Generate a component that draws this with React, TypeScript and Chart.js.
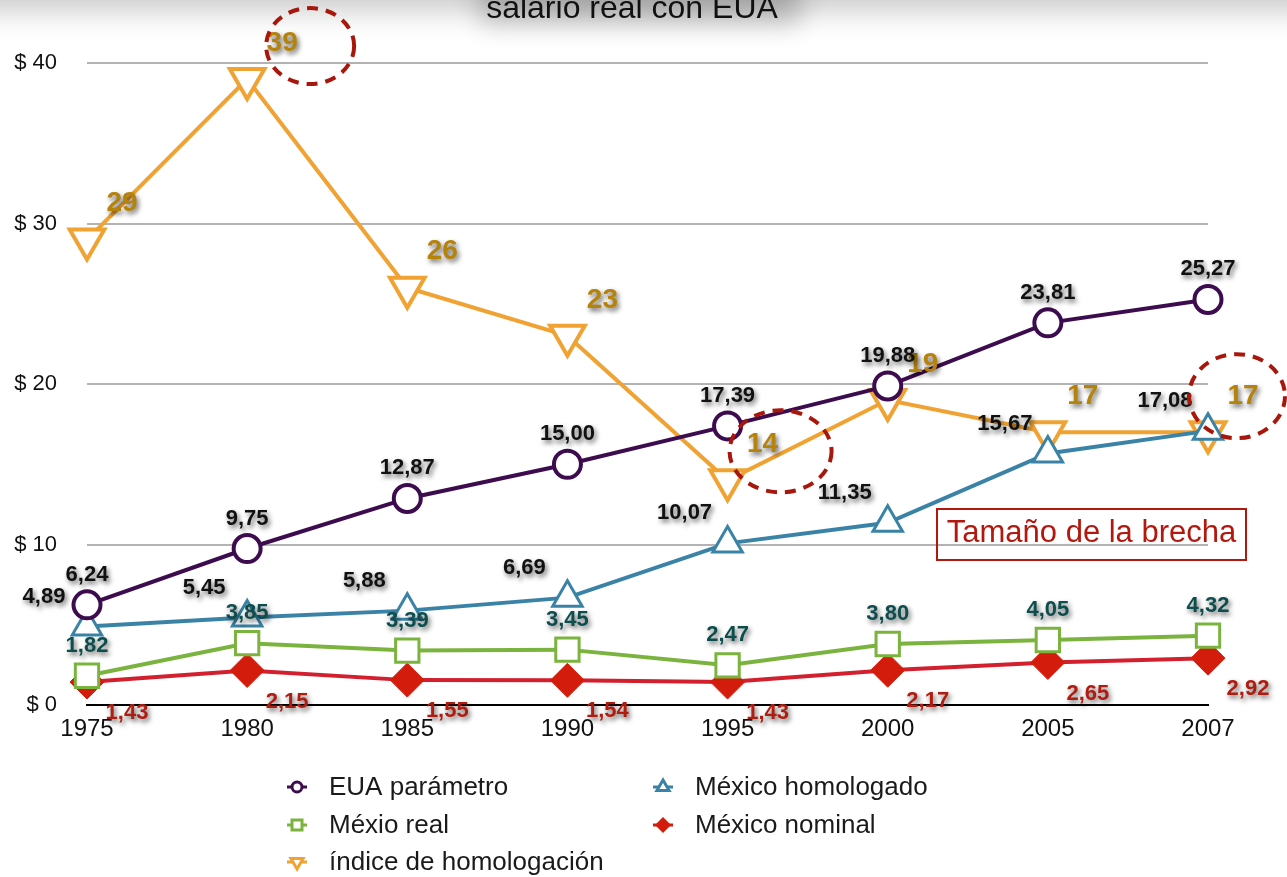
import React, { useEffect, useRef } from 'react';
import { Chart, registerables } from 'chart.js';
Chart.register(...registerables);

const years = ['1975', '1980', '1985', '1990', '1995', '2000', '2005', '2007'];
const euaParametro = [6.24, 9.75, 12.87, 15.0, 17.39, 19.88, 23.81, 25.27];
const mexicoHomologado = [4.89, 5.45, 5.88, 6.69, 10.07, 11.35, 15.67, 17.08];
const mexicoReal = [1.82, 3.85, 3.39, 3.45, 2.47, 3.8, 4.05, 4.32];
const mexicoNominal = [1.43, 2.15, 1.55, 1.54, 1.43, 2.17, 2.65, 2.92];
const indiceHomologacion = [29, 39, 26, 23, 14, 19, 17, 17];
const yMin = 0;
const yMax = 40;
const yStep = 10;
const titleText = 'salario real con EUA';
const calloutText = 'Tamaño de la brecha';
const highlightedIdx = [1, 4, 7];

const FONT = "'Liberation Sans', Arial, Helvetica, sans-serif";

const fmt2 = (v: number) => v.toFixed(2).replace('.', ',');
const fmt0 = (v: number) => String(Math.round(v));

const COLORS = {
  eua: '#3d0c4e',
  hom: '#3a83a7',
  real: '#7bb33f',
  nomLine: '#d2202e',
  nomFill: '#d41c0c',
  idx: '#f0a232',
};

function drawMarker(ctx: CanvasRenderingContext2D, kind: string, x: number, y: number, color: string) {
  ctx.save();
  ctx.strokeStyle = color;
  ctx.lineWidth = 3;
  ctx.beginPath();
  ctx.moveTo(x - 10, y);
  ctx.lineTo(x + 10, y);
  ctx.stroke();
  ctx.beginPath();
  const r = 7;
  if (kind === 'circle') {
    ctx.arc(x, y, 5, 0, Math.PI * 2);
  } else if (kind === 'rect') {
    ctx.rect(x - 5, y - 5, 10, 10);
  } else if (kind === 'triangle') {
    ctx.moveTo(x, y - r);
    ctx.lineTo(x + r * 0.87, y + r * 0.5);
    ctx.lineTo(x - r * 0.87, y + r * 0.5);
    ctx.closePath();
  } else if (kind === 'tri-down') {
    ctx.moveTo(x, y + r);
    ctx.lineTo(x + r * 0.87, y - r * 0.5);
    ctx.lineTo(x - r * 0.87, y - r * 0.5);
    ctx.closePath();
  } else if (kind === 'diamond') {
    ctx.moveTo(x, y - 8);
    ctx.lineTo(x + 8, y);
    ctx.lineTo(x, y + 8);
    ctx.lineTo(x - 8, y);
    ctx.closePath();
  }
  if (kind === 'diamond') {
    ctx.fillStyle = color;
    ctx.fill();
  } else {
    ctx.fillStyle = '#fff';
    ctx.fill();
    ctx.lineWidth = 3;
    ctx.stroke();
  }
  ctx.restore();
}

const decorPlugin = {
  id: 'decor',
  beforeDraw(chart: any) {
    const ctx = chart.ctx as CanvasRenderingContext2D;
    ctx.save();
    ctx.fillStyle = '#fff';
    ctx.fillRect(0, 0, chart.width, chart.height);
    // soft shadow band at the top (shape kept off-canvas, only its shadow shows)
    const off = 2000;
    ctx.shadowColor = 'rgba(0,0,0,0.22)';
    ctx.shadowBlur = 30;
    ctx.shadowOffsetY = off + 10;
    ctx.fillStyle = '#fff';
    ctx.fillRect(-60, -off - 60, chart.width + 120, 60);
    // title halo
    ctx.shadowColor = 'rgba(0,0,0,0.22)';
    ctx.shadowBlur = 26;
    ctx.shadowOffsetY = off + 14;
    ctx.fillRect(480, -off - 40, 320, 50);
    ctx.restore();
  },
  afterDatasetsDraw(chart: any) {
    const ctx = chart.ctx as CanvasRenderingContext2D;
    // data labels
    const drawOrder = [4, 3, 2, 1, 0];
    drawOrder.forEach((di) => {
      const ds = chart.data.datasets[di];
      const meta = chart.getDatasetMeta(di);
      const lbl = ds.lbl;
      ctx.save();
      ctx.font = lbl.font;
      ctx.fillStyle = lbl.color;
      ctx.textAlign = 'center';
      ctx.textBaseline = 'middle';
      ctx.shadowColor = 'rgba(0,0,0,0.6)';
      ctx.shadowBlur = 5;
      ctx.shadowOffsetX = 2;
      ctx.shadowOffsetY = 3;
      meta.data.forEach((pt: any, i: number) => {
        ctx.fillText(lbl.fmt(ds.data[i]), pt.x + lbl.dx, pt.y + lbl.dy);
      });
      ctx.restore();
    });

    // dashed ellipses around highlighted index values
    const idxMeta = chart.getDatasetMeta(4);
    const ellipseOffsets = [
      { dx: 63, dy: -33, rx: 44, ry: 38 },
      { dx: 53, dy: -29, rx: 51, ry: 41 },
      { dx: 29, dy: -36, rx: 48, ry: 42 },
    ];
    ctx.save();
    ctx.strokeStyle = '#a8170c';
    ctx.lineWidth = 4;
    ctx.setLineDash([11, 8]);
    highlightedIdx.forEach((i, k) => {
      const pt = idxMeta.data[i];
      const o = ellipseOffsets[k];
      ctx.beginPath();
      ctx.ellipse(pt.x + o.dx, pt.y + o.dy, o.rx, o.ry, 0, 0, Math.PI * 2);
      ctx.stroke();
    });
    ctx.restore();

    // callout box
    const ca = chart.chartArea;
    const bx = ca.right - 271;
    const by = 509;
    const bw = 309;
    const bh = 51;
    ctx.save();
    ctx.strokeStyle = '#b3170e';
    ctx.lineWidth = 2;
    ctx.strokeRect(bx, by, bw, bh);
    ctx.fillStyle = '#b3170e';
    ctx.font = `31px ${FONT}`;
    ctx.textAlign = 'center';
    ctx.textBaseline = 'alphabetic';
    ctx.fillText(calloutText, bx + bw / 2, by + 33);
    ctx.restore();
  },
  afterDraw(chart: any) {
    const ctx = chart.ctx as CanvasRenderingContext2D;
    // title
    ctx.save();
    ctx.fillStyle = '#111';
    ctx.font = `32px ${FONT}`;
    ctx.textAlign = 'center';
    ctx.textBaseline = 'alphabetic';
    ctx.fillText(titleText, 632, 18);
    ctx.restore();

    // legend
    const items = [
      { text: 'EUA parámetro', kind: 'circle', color: COLORS.eua, x: 297, y: 787 },
      { text: 'México homologado', kind: 'triangle', color: COLORS.hom, x: 663, y: 787 },
      { text: 'Méxio real', kind: 'rect', color: COLORS.real, x: 297, y: 825 },
      { text: 'México nominal', kind: 'diamond', color: COLORS.nomFill, x: 663, y: 825 },
      { text: 'índice de homologación', kind: 'tri-down', color: COLORS.idx, x: 297, y: 862 },
    ];
    ctx.save();
    ctx.font = `26px ${FONT}`;
    ctx.textAlign = 'left';
    ctx.textBaseline = 'middle';
    items.forEach((it) => {
      drawMarker(ctx, it.kind, it.x, it.y, it.color);
      ctx.fillStyle = '#1a1a1a';
      ctx.fillText(it.text, it.x + 32, it.y + 1);
    });
    ctx.restore();
  },
};

export default function App() {
  const ref = useRef<HTMLCanvasElement | null>(null);
  useEffect(() => {
    if (!ref.current) return;
    Chart.defaults.font.family = FONT;
    const chart = new Chart(ref.current, {
      type: 'line',
      data: {
        labels: years,
        datasets: [
          {
            label: 'EUA parámetro',
            data: euaParametro,
            borderColor: COLORS.eua,
            backgroundColor: '#fff',
            borderWidth: 4,
            pointStyle: 'circle',
            pointRadius: 13.5,
            pointBorderWidth: 4,
            pointBackgroundColor: '#fff',
            pointBorderColor: COLORS.eua,
            order: 1,
            clip: false,
            lbl: { fmt: fmt2, color: '#111', font: `bold 22px ${FONT}`, dx: 0, dy: -30 },
          } as any,
          {
            label: 'México homologado',
            data: mexicoHomologado,
            borderColor: COLORS.hom,
            backgroundColor: '#fff',
            borderWidth: 4,
            pointStyle: 'triangle',
            pointRadius: 17,
            pointBorderWidth: 3,
            pointBackgroundColor: '#fff',
            pointBorderColor: COLORS.hom,
            order: 2,
            clip: false,
            lbl: { fmt: fmt2, color: '#111', font: `bold 22px ${FONT}`, dx: -43, dy: -30 },
          } as any,
          {
            label: 'Méxio real',
            data: mexicoReal,
            borderColor: COLORS.real,
            backgroundColor: '#fff',
            borderWidth: 4,
            pointStyle: 'rect',
            pointRadius: 16.5,
            pointBorderWidth: 3,
            pointBackgroundColor: '#fff',
            pointBorderColor: COLORS.real,
            order: 3,
            clip: false,
            lbl: { fmt: fmt2, color: '#0d4d4d', font: `bold 22px ${FONT}`, dx: 0, dy: -30 },
          } as any,
          {
            label: 'México nominal',
            data: mexicoNominal,
            borderColor: COLORS.nomLine,
            backgroundColor: COLORS.nomFill,
            borderWidth: 4,
            pointStyle: 'rectRot',
            pointRadius: 17,
            pointBorderWidth: 1,
            pointBackgroundColor: COLORS.nomFill,
            pointBorderColor: COLORS.nomFill,
            order: 4,
            clip: false,
            lbl: { fmt: fmt2, color: '#b01c10', font: `bold 22px ${FONT}`, dx: 40, dy: 31 },
          } as any,
          {
            label: 'índice de homologación',
            data: indiceHomologacion,
            borderColor: COLORS.idx,
            backgroundColor: '#fff',
            borderWidth: 4,
            pointStyle: 'triangle',
            rotation: 180,
            pointRotation: 180,
            pointRadius: 20,
            pointBorderWidth: 4,
            pointBackgroundColor: '#fff',
            pointBorderColor: COLORS.idx,
            order: 5,
            clip: false,
            lbl: { fmt: fmt0, color: '#b5820c', font: `bold 28px ${FONT}`, dx: 35, dy: -36 },
          } as any,
        ],
      },
      options: {
        responsive: false,
        devicePixelRatio: 1,
        animation: false,
        events: [],
        layout: { padding: { top: 63, right: 79, left: 0, bottom: 132 } },
        plugins: {
          legend: { display: false },
          title: { display: false },
          tooltip: { enabled: false },
        },
        elements: { line: { tension: 0 } },
        scales: {
          x: {
            type: 'category',
            offset: false,
            grid: { display: false, drawTicks: false },
            border: { display: true, color: '#000', width: 2 },
            ticks: {
              color: '#111',
              font: { size: 24, family: FONT },
              padding: 10,
              maxRotation: 0,
              autoSkip: false,
            },
            afterFit: (s: any) => {
              s.height = 40;
            },
          },
          y: {
            min: yMin,
            max: yMax,
            grid: {
              color: (c: any) => (c.tick && c.tick.value === 0 ? 'rgba(0,0,0,0)' : '#b3b3b3'),
              lineWidth: 2,
              drawTicks: false,
            },
            border: { display: false },
            ticks: {
              stepSize: yStep,
              color: '#111',
              font: { size: 22, family: FONT },
              padding: 30,
              callback: (v: any) => '$ ' + v,
            },
            afterFit: (s: any) => {
              s.width = 87;
            },
          },
        },
      },
      plugins: [decorPlugin],
    } as any);
    return () => chart.destroy();
  }, []);
  return (
    <div style={{ position: 'fixed', left: 0, top: 0, width: 1287, height: 877, background: '#fff' }}>
      <canvas ref={ref} width={1287} height={877} style={{ display: 'block', width: 1287, height: 877 }} />
    </div>
  );
}
